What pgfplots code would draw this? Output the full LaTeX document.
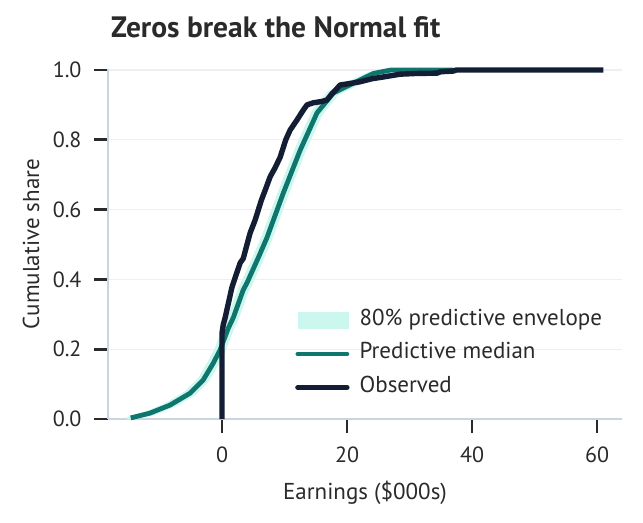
\documentclass[border=0pt]{standalone}
\usepackage{pgfplots}
\pgfplotsset{compat=1.18}
\usepackage{fontspec}
\setmainfont{PT Sans}
\definecolor{band}{HTML}{CCF7EE}
\definecolor{med}{HTML}{0F766E}
\definecolor{obs}{HTML}{131D33}
\definecolor{spine}{HTML}{CAD5E2}
\definecolor{gridc}{HTML}{ECEFF3}
\definecolor{txt}{HTML}{2A2A2A}
\begin{document}
\begin{tikzpicture}
\path[use as bounding box] (-108bp,-104bp) rectangle (535bp,419bp);
\begin{axis}[
  at={(0,0)}, anchor=south west,
  scale only axis, width=514bp, height=350bp,
  xmin=-18.24, xmax=64, ymin=0, ymax=1.00287,
  clip=false,
  axis x line*=bottom, axis y line*=left,
  axis line style={spine, line width=1.6bp},
  xtick={0,20,40,60}, ytick={0,0.2,0.4,0.6,0.8,1.0},
  tick align=outside, major tick length=14bp,
  tick style={color=txt, line width=2.6bp},
  ymajorgrids, grid style={gridc, line width=1.3bp},
  /pgf/number format/assume math mode=true,
  yticklabel={\pgfmathprintnumber[fixed,fixed zerofill,precision=1]{\tick}},
  ticklabel style={font=\fontsize{22bp}{26bp}\selectfont, text=txt},
  yticklabel style={xshift=-9bp},
  xticklabel style={yshift=-10bp},
  xlabel={Earnings (\$000s)}, ylabel={Cumulative share},
  label style={font=\fontsize{23bp}{27bp}\selectfont, text=txt},
  xlabel style={at={(axis description cs:0.5,-0.2314)}, anchor=base},
  ylabel style={at={(axis description cs:-0.1498,0.5)}, anchor=center},
  title={\textbf{Zeros break the Normal fit}},
  title style={font=\fontsize{29.5bp}{34bp}\selectfont, text=txt, at={(0,1)}, anchor=base west, xshift=3bp, yshift=26bp, inner sep=0pt},
  legend image code/.code={\draw[#1, line cap=round] (0bp,0bp) -- (49bp,0bp);},
  legend style={at={(0.358,0.322)}, anchor=north west, draw=none, fill=none,
     font=\fontsize{23bp}{27bp}\selectfont, text=txt, row sep=9.5bp, column sep=8bp,
     nodes={inner sep=2bp, text height=15bp, text depth=5bp}},
  legend cell align=left,
]
\addplot[fill=band, draw=none, forget plot] coordinates {
(-15.2,0.006) (-12.3,0.021) (-9.1,0.045) (-5.9,0.08) (-3.8,0.118) (-2.2,0.167) (-1.1,0.205) (0.2,0.267) (1,0.297) (2.6,0.377) (3.2,0.397) (5.2,0.477) (6.4,0.527) (9,0.654) (11.7,0.777) (14.4,0.884) (17,0.94) (20.2,0.968) (23.4,0.994) (26,1.0) (37,1.0)
(37,0.999) (27.8,0.996) (25,0.984) (21.8,0.956) (18.6,0.928) (16,0.87) (13.3,0.763) (10.6,0.64) (8,0.513) (6.8,0.463) (4.8,0.383) (4.2,0.363) (2.6,0.283) (1.8,0.253) (0.5,0.191) (-0.6,0.153) (-2.2,0.106) (-4.3,0.068) (-7.5,0.035) (-10.7,0.012) (-13.8,0)
} \closedcycle;
\addlegendimage{legend image code/.code={\fill[band] (0bp,-8bp) rectangle (50bp,8bp);}}
\addlegendentry{80\% predictive envelope}
\addplot[med, line width=4.8bp, line join=round] coordinates {
(-14.6,0.003) (-11.5,0.017) (-8.3,0.04) (-5.1,0.074) (-3,0.112) (-1.4,0.16) (-0.3,0.198) (1,0.26) (1.8,0.29) (3.4,0.37) (4,0.39) (6,0.47) (7.2,0.52) (9.8,0.647) (12.5,0.77) (15.2,0.877) (17.8,0.934) (21,0.962) (24.2,0.99) (27,1.0) (37,1.0)
};
\addlegendentry{Predictive median}
\addplot[obs, line width=5.4bp, line join=round] coordinates {
(0,0) (0,0.246) (0.2,0.27) (0.5,0.29) (1,0.33) (1.6,0.378) (2.2,0.41) (2.9,0.447) (3.4,0.46) (4,0.5) (4.5,0.533) (5.3,0.57) (6.3,0.627) (7,0.66) (7.7,0.694) (8.5,0.72) (9.3,0.75) (10.2,0.8) (10.9,0.828) (12,0.857) (13,0.885) (13.6,0.9) (14.6,0.906) (16,0.91) (16.8,0.914) (17.5,0.93) (18.3,0.945) (18.9,0.957) (20,0.96) (22,0.966) (24,0.975) (25.8,0.98) (28.5,0.988) (31,0.99) (34.4,0.991) (35,0.995) (37,0.997) (37.5,1.0) (61,1.0)
};
\addlegendentry{Observed}
\end{axis}
\end{tikzpicture}
\end{document}
